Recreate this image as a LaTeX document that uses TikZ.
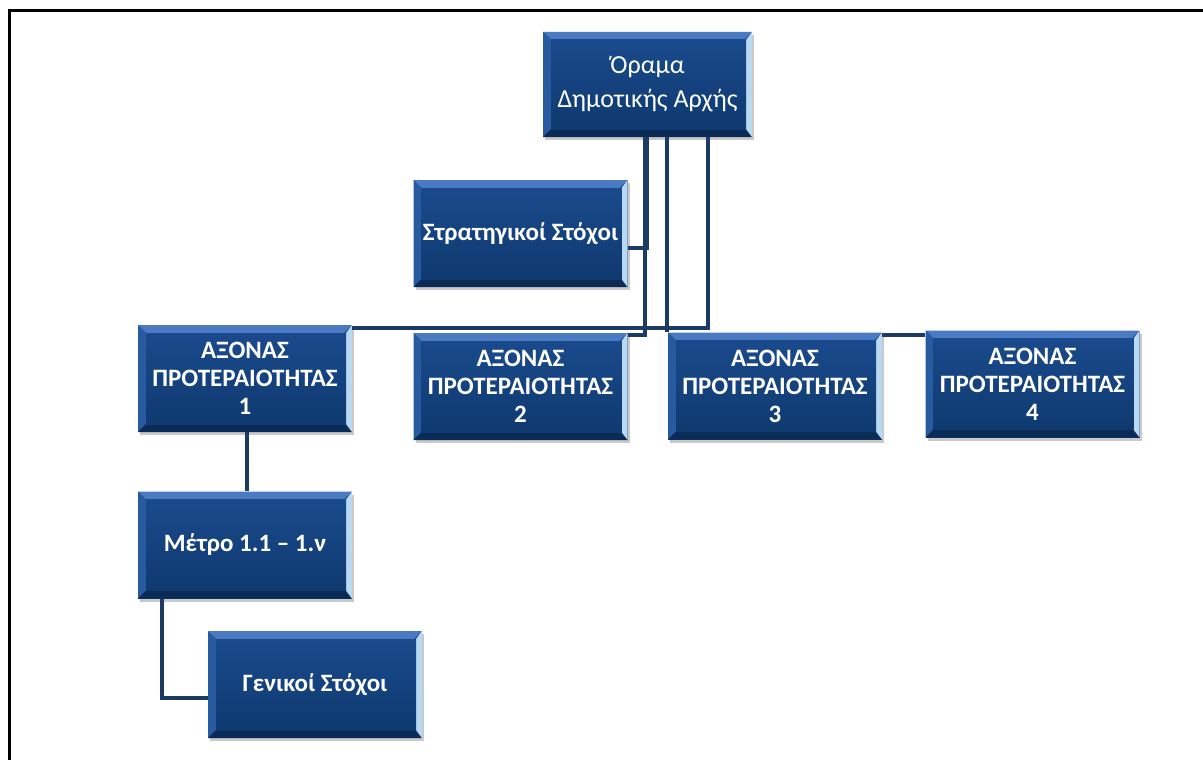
\documentclass[tikz,border=0pt]{standalone}
\usepackage{fontspec}
\setmainfont{Carlito}
\usetikzlibrary{shadows,calc}
\definecolor{lineblue}{HTML}{1B3A64}
\definecolor{facetop}{HTML}{1A4A8C}
\definecolor{facebot}{HTML}{0F3A70}
\definecolor{bevtop}{HTML}{4A7BC2}
\definecolor{bevleft}{HTML}{285AA0}
\definecolor{bevbot}{HTML}{0A2B56}
\definecolor{bevright}{HTML}{B9D8F2}
\tikzset{
  bx/.style={minimum width=214pt, minimum height=107pt, inner sep=0pt, align=center,
    text=white, font=\bfseries\fontsize{25}{28}\selectfont, fill=facebot,
    drop shadow={shadow xshift=2pt, shadow yshift=-3pt, opacity=0.35, fill=black!60},
    path picture={
      \coordinate (pnw) at (path picture bounding box.north west);
      \coordinate (pne) at (path picture bounding box.north east);
      \coordinate (psw) at (path picture bounding box.south west);
      \coordinate (pse) at (path picture bounding box.south east);
      \fill[bevtop] (pnw) -- (pne) -- ([xshift=-8pt,yshift=-8pt]pne) -- ([xshift=8pt,yshift=-8pt]pnw) -- cycle;
      \fill[bevleft] (pnw) -- ([xshift=8pt,yshift=-8pt]pnw) -- ([xshift=8pt,yshift=8pt]psw) -- (psw) -- cycle;
      \fill[bevbot] (psw) -- ([xshift=8pt,yshift=8pt]psw) -- ([xshift=-8pt,yshift=8pt]pse) -- (pse) -- cycle;
      \fill[bevright] (pne) -- (pse) -- ([xshift=-6pt,yshift=8pt]pse) -- ([xshift=-6pt,yshift=-8pt]pne) -- cycle;
      \shade[top color=facetop, bottom color=facebot] ([xshift=8pt,yshift=-8pt]pnw) rectangle ([xshift=-6pt,yshift=8pt]pse);
    }},
  conn/.style={draw=lineblue, line width=4pt},
  frame/.style={draw=black, line width=3pt}
}
\begin{document}
\begin{tikzpicture}[x=1pt,y=-1pt]
\useasboundingbox (0,0) rectangle (1203,760);
\fill[white] (0,0) rectangle (1203,760);
\coordinate (fbl) at (9,762);
\coordinate (ftl) at (9,11);
\coordinate (ftr) at (1205,11);
\draw[frame] (fbl) -- (ftl) -- (ftr);

\node[bx, minimum width=209pt, minimum height=105pt, font=\fontsize{26}{34}\selectfont] (vision) at (647.5,84.5) {Όραμα\\Δημοτικής Αρχής};
\node[bx] (strat) at (520.5,233.5) {Στρατηγικοί Στόχοι};
\node[bx] (a1) at (245,378.5) {ΑΞΟΝΑΣ\\ΠΡΟΤΕΡΑΙΟΤΗΤΑΣ\\1};
\node[bx] (a2) at (520.5,386.5) {ΑΞΟΝΑΣ\\ΠΡΟΤΕΡΑΙΟΤΗΤΑΣ\\2};
\node[bx] (a3) at (775,386) {ΑΞΟΝΑΣ\\ΠΡΟΤΕΡΑΙΟΤΗΤΑΣ\\3};
\node[bx] (a4) at (1032.5,384) {ΑΞΟΝΑΣ\\ΠΡΟΤΕΡΑΙΟΤΗΤΑΣ\\4};
\node[bx] (metro) at (245,545) {Μέτρο 1.1 – 1.ν};
\node[bx] (gen) at (315,684.5) {Γενικοί Στόχοι};

\draw[conn] ([xshift=-0.5pt]vision.south) |- ([yshift=-14.5pt]strat.east);
\draw[conn] ([xshift=60.5pt]vision.south) |- ([yshift=-3pt]a1.north east);
\draw[conn] ([xshift=-2.5pt]vision.south) |- ([yshift=-2pt]a2.north east);
\draw[conn] ([xshift=19.5pt]vision.south) -- ([xshift=19.5pt]vision.south |- a3.north);
\draw[conn] ([yshift=-3pt]a3.north east) -- ([yshift=-3pt]a3.north east -| a4.west);
\draw[conn] ([xshift=2pt]a1.south) -- ([xshift=2pt]a1.south |- metro.north);
\draw[conn] ([xshift=24pt]metro.south west) |- ([yshift=-13.5pt]gen.west);
\end{tikzpicture}
\end{document}
